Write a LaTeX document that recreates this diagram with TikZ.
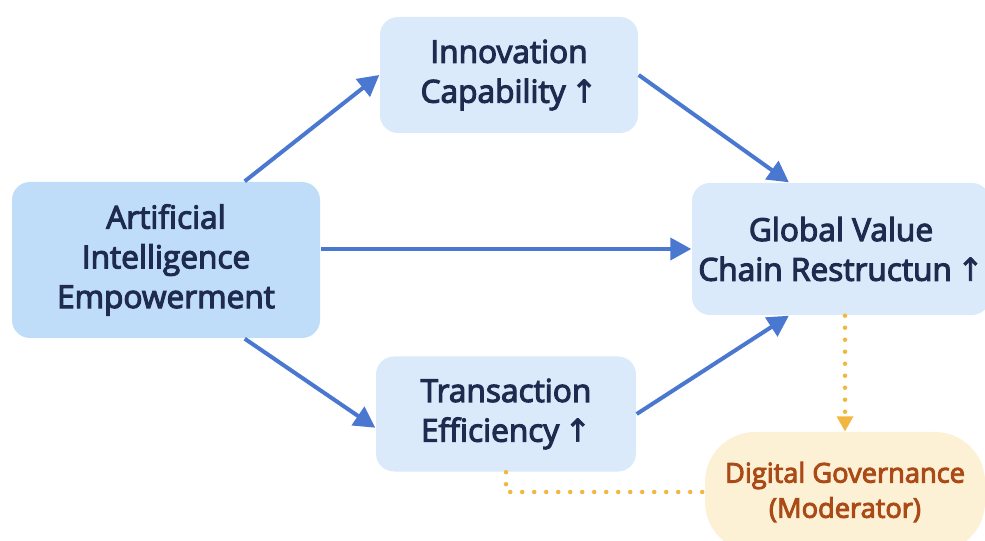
\documentclass[tikz,border=0pt]{standalone}
\usepackage{fontspec}
\setmainfont{Open Sans}[FakeBold=3.5]
\newfontfamily\arrowfont{DejaVu Sans}[FakeBold=2]
\usetikzlibrary{arrows.meta,positioning}
\definecolor{boxblue}{HTML}{BFDDF8}
\definecolor{paleblue}{HTML}{DAEAFB}
\definecolor{arrowblue}{HTML}{4A77CF}
\definecolor{navy}{HTML}{1E2B4F}
\definecolor{cream}{HTML}{FDF1D5}
\definecolor{rust}{HTML}{AA4A16}
\definecolor{dotorange}{HTML}{F2B740}
\newcommand{\up}{{\arrowfont\,\symbol{"2191}}}
\begin{document}
\begin{tikzpicture}[thick,
    main/.style = {draw=none, rounded corners=0.36cm, align=center, text=navy, font=\fontsize{18}{22.6}\selectfont},
    flow/.style = {draw=arrowblue, line width=0.08cm, -{Triangle[length=0.42cm,width=0.44cm]}},
    dots/.style = {draw=dotorange, line width=0.09cm, line cap=round, dash pattern=on 0pt off 0.24cm}]
    \useasboundingbox (0,0) rectangle (19.7,10.8);
    \node[main, fill=boxblue, minimum width=6.16cm, minimum height=3.12cm] (1) at (3.32,5.6) {Artificial\\Intelligence\\Empowerment};
    \node[main, fill=paleblue, minimum width=5.16cm, minimum height=2.32cm] (2) at (10.18,9.3) {Innovation\\Capability\up};
    \node[main, fill=paleblue, minimum width=5.2cm, minimum height=2.3cm] (3) at (10.12,2.52) {Transaction\\Efficiency\up};
    \node[main, fill=paleblue, minimum width=5.96cm, minimum height=2.64cm] (4) at (16.82,5.82) {Global Value\\Chain Restructun\up};
    \node[main, fill=cream, text=rust, rounded corners=1cm, minimum width=5.6cm, minimum height=2.4cm, font=\fontsize{15.5}{20}\selectfont] (5) at (16.9,0.96) {Digital Governance\\(Moderator)};

    \draw[flow] (1.45) -- (2.west);
    \draw[flow] (2.east) -- (4.128);
    \draw[flow] (1.east |- 4.west) -- (4.west);
    \draw[flow] (1.-45) -- (3.186);
    \draw[flow] (3.east) -- (4.232);
    \draw[dots] (5.north |- 4.south) -- ([yshift=0.3cm]5.north);
    \fill[dotorange] (5.north) -- ++(-0.17,0.3) -- ++(0.34,0) -- cycle;
    \draw[dots] (3.south) |- (5.west);
\end{tikzpicture}
\end{document}
